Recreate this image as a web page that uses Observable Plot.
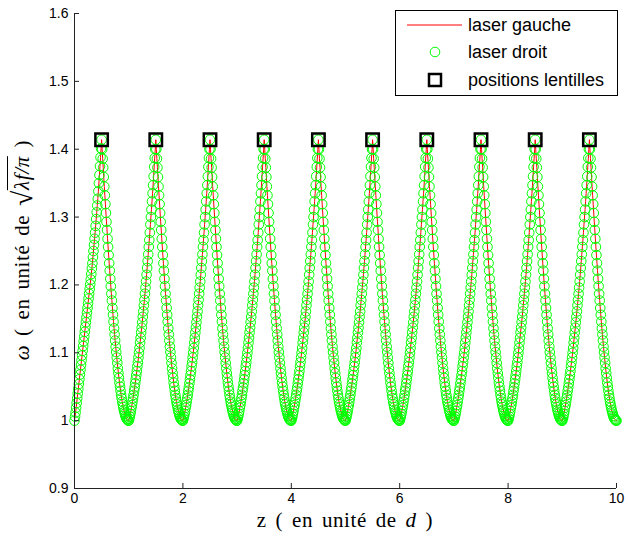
<!DOCTYPE html>
<html><head><meta charset="utf-8">
<script src="https://cdn.jsdelivr.net/npm/d3@7"></script>
<script src="https://cdn.jsdelivr.net/npm/@observablehq/plot@0.6"></script>
<style>
body{margin:0;background:#fff;}
#wrap{position:relative;width:628px;height:548px;overflow:hidden;background:#fff;}
#wrap svg{position:absolute;left:0;top:0;}
.lab{position:absolute;font-family:"Liberation Serif","Times New Roman",serif;font-size:21px;color:#000;white-space:nowrap;letter-spacing:0.6px;word-spacing:3px;}
.xlab{left:74px;width:542px;top:508px;text-align:center;}
.ylab{left:20px;top:250px;transform:translate(-50%,-50%) rotate(-90deg);}
.it{font-style:italic;}
.rad{font-size:28px;position:relative;top:3px;}
.over{border-top:1px solid #000;padding-top:2px;font-style:italic;}
</style>
</head><body>
<div id="wrap"></div>
<script>
// Valley (waist) positions and lens positions, in units of d
const valleyZ = [0,1,2,3,4,5,6,7,8,9,10];
const lensZ = [0.5,1.5,2.5,3.5,4.5,5.5,6.5,7.5,8.5,9.5];
const lensOmega = [1.414,1.414,1.414,1.414,1.414,1.414,1.414,1.414,1.414,1.414];
// distance from a waist, along one branch
const dSteps = [0,0.01,0.02,0.03,0.04,0.05,0.06,0.07,0.08,0.09,0.10,0.11,0.12,0.13,0.14,0.15,0.16,0.17,0.18,0.19,0.20,0.21,0.22,0.23,0.24,0.25,0.26,0.27,0.28,0.29,0.30,0.31,0.32,0.33,0.34,0.35,0.36,0.37,0.38,0.39,0.40,0.41,0.42,0.43,0.44,0.45,0.46,0.47,0.48,0.49,0.50];
// first rising branch (z from 0 to 0.5), nearly straight
const firstRisingOmega = [1.000,1.006,1.012,1.019,1.026,1.033,1.040,1.047,1.054,1.061,1.068,1.075,1.082,1.089,1.096,1.103,1.110,1.117,1.124,1.131,1.138,1.145,1.152,1.159,1.166,1.173,1.180,1.187,1.194,1.201,1.208,1.216,1.224,1.232,1.241,1.250,1.259,1.268,1.277,1.287,1.297,1.307,1.317,1.327,1.338,1.350,1.362,1.375,1.388,1.401,1.414];
// other rising branches (waist -> next lens)
const risingOmega = [1.000,1.003,1.006,1.010,1.014,1.019,1.023,1.028,1.033,1.038,1.044,1.049,1.055,1.061,1.067,1.073,1.080,1.086,1.093,1.100,1.107,1.115,1.122,1.130,1.137,1.145,1.153,1.161,1.170,1.178,1.187,1.196,1.205,1.215,1.225,1.235,1.245,1.256,1.266,1.277,1.289,1.300,1.311,1.323,1.335,1.347,1.360,1.374,1.387,1.400,1.414];
// falling branches (lens -> next waist), listed from the waist outwards
const fallingOmega = [1.000,1.000,1.001,1.002,1.003,1.005,1.007,1.010,1.013,1.016,1.020,1.024,1.028,1.033,1.038,1.044,1.050,1.056,1.063,1.070,1.077,1.085,1.093,1.101,1.109,1.118,1.127,1.136,1.146,1.156,1.166,1.177,1.187,1.198,1.209,1.221,1.232,1.244,1.256,1.268,1.281,1.293,1.306,1.319,1.332,1.345,1.359,1.373,1.386,1.400,1.414];
const xTicks = [0,2,4,6,8,10];
const yTicks = [0.9,1,1.1,1.2,1.3,1.4,1.5,1.6];

const beam = [];
for (let k = 0; k < valleyZ.length - 1; k++) {
  const up = k === 0 ? firstRisingOmega : risingOmega;
  for (let i = (k === 0 ? 0 : 1); i < dSteps.length; i++) beam.push({z: valleyZ[k] + dSteps[i], w: up[i]});
  for (let i = dSteps.length - 2; i >= 0; i--) beam.push({z: valleyZ[k + 1] - dSteps[i], w: fallingOmega[i]});
}
const lenses = lensZ.map((z, i) => ({z, w: lensOmega[i]}));

const axisColor = "#222";
const chart = Plot.plot({
  width: 628, height: 548,
  marginLeft: 74, marginRight: 12, marginTop: 13, marginBottom: 60,
  x: {domain: [0, 10]},
  y: {domain: [0.9, 1.6]},
  style: {fontFamily: "'Liberation Sans', Arial, sans-serif", fontSize: "14px", color: "#000", background: "#fff"},
  marks: [
    Plot.line(beam, {x: "z", y: "w", stroke: "#ff0000", strokeWidth: 1}),
    Plot.dot(beam, {x: "z", y: "w", r: 4.8, stroke: "#00ff00", fill: "none", strokeWidth: 1}),
    Plot.dot(lenses, {x: "z", y: "w", symbol: "square", r: 7, stroke: "#000", fill: "none", strokeWidth: 2.5}),
    Plot.ruleX([0], {stroke: axisColor}),
    Plot.ruleY([0.9], {stroke: axisColor}),
    Plot.ruleX(xTicks, {x: d => d, y1: 0.9, y2: 0.9 + 0.0074, stroke: axisColor}),
    Plot.ruleY(yTicks, {y: d => d, x1: 0, x2: 0.092, stroke: axisColor}),
    Plot.axisX({ticks: xTicks, tickSize: 0, tickPadding: 5, tickFormat: d => String(d), label: null}),
    Plot.axisY({ticks: yTicks, tickSize: 0, tickPadding: 6, tickFormat: d => String(d), label: null})
  ]
});
const wrap = document.getElementById("wrap");
wrap.appendChild(chart);

// legend
const leg = d3.select(wrap).append("svg").attr("width", 628).attr("height", 548)
  .style("font-family", "'Liberation Sans', Arial, sans-serif").style("font-size", "18px");
leg.append("rect").attr("x", 395.5).attr("y", 10.5).attr("width", 222).attr("height", 85)
  .attr("fill", "#fff").attr("stroke", "#000").attr("stroke-width", 1);
leg.append("line").attr("x1", 407).attr("x2", 462).attr("y1", 25).attr("y2", 25).attr("stroke", "#ff0000");
leg.append("circle").attr("cx", 435).attr("cy", 52).attr("r", 4.8).attr("fill", "none").attr("stroke", "#00ff00");
leg.append("rect").attr("x", 429).attr("y", 74).attr("width", 12).attr("height", 12).attr("fill", "none").attr("stroke", "#000").attr("stroke-width", 2.5);
const legNames = ["laser gauche", "laser droit", "positions lentilles"];
legNames.forEach((t, i) => leg.append("text").attr("x", 468).attr("y", [31, 58, 86][i]).text(t));

// axis labels
const xl = document.createElement("div");
xl.className = "lab xlab";
xl.innerHTML = 'z ( en unité de <span class="it">d</span> )';
wrap.appendChild(xl);
const yl = document.createElement("div");
yl.className = "lab ylab";
yl.innerHTML = '<span class="it">ω</span> ( en unité de <span class="rad">√</span><span class="over">λf/π</span> )';
wrap.appendChild(yl);
</script>
</body></html>
